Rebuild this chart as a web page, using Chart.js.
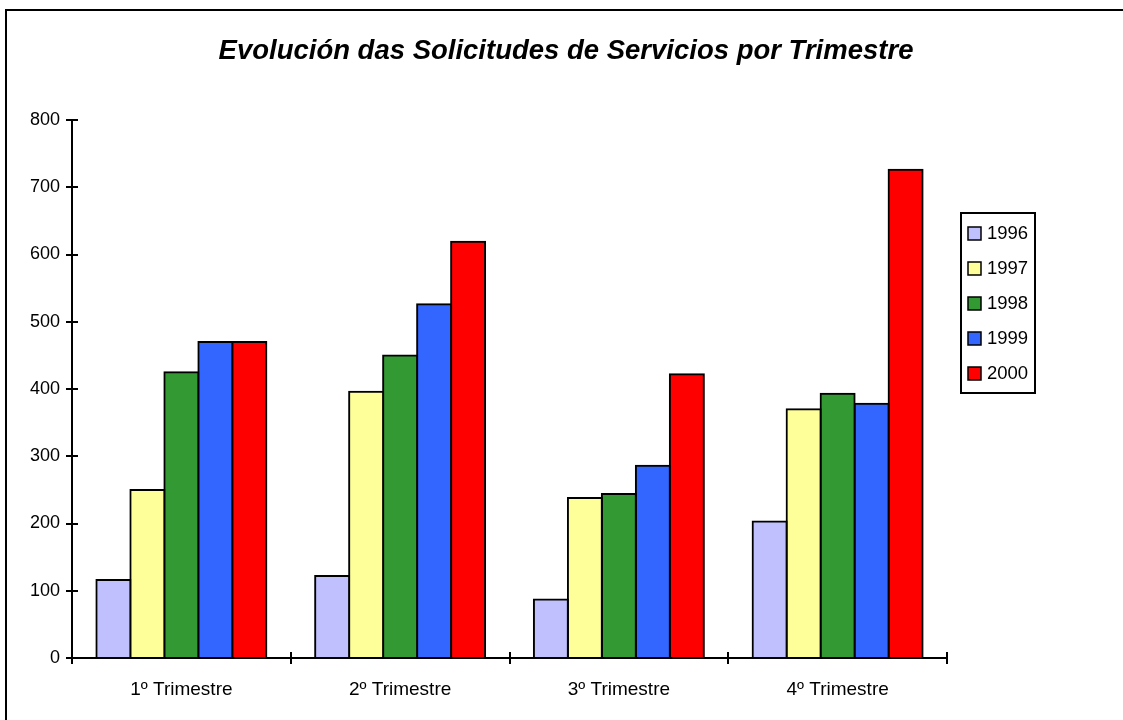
<!DOCTYPE html>
<html><head><meta charset="utf-8">
<script src="https://cdn.jsdelivr.net/npm/chart.js@4.4.0/dist/chart.umd.min.js"></script>
<style>html,body{margin:0;padding:0;background:#fff;overflow:hidden}#wrap{width:1123px;height:720px;position:relative}</style>
</head><body><div id="wrap"><canvas id="c" width="1123" height="720"></canvas></div>
<script>
const chartTitle = 'Evolución das Solicitudes de Servicios por Trimestre';
const categories = ['1º Trimestre', '2º Trimestre', '3º Trimestre', '4º Trimestre'];
const seriesNames = ['1996', '1997', '1998', '1999', '2000'];
const v1996 = [116, 122, 87, 203];
const v1997 = [250, 396, 238, 370];
const v1998 = [425, 450, 244, 393];
const v1999 = [470, 526, 286, 378];
const v2000 = [470, 619, 422, 726];
const yTickValues = [0, 100, 200, 300, 400, 500, 600, 700, 800];
const seriesColors = ['#C0C0FF', '#FFFF99', '#339933', '#3366FF', '#FF0000'];

const seriesValues = [v1996, v1997, v1998, v1999, v2000];
const FONT = '"Liberation Sans", Arial, sans-serif';

const decor = {
  id: 'decor',
  afterDraw(chart) {
    const ctx = chart.ctx;
    const xs = chart.scales.x, ys = chart.scales.y;
    const ca = chart.chartArea;
    ctx.save();
    // outer frame
    ctx.strokeStyle = '#000'; ctx.lineWidth = 2;
    ctx.beginPath();
    ctx.moveTo(6, 720); ctx.lineTo(6, 10); ctx.lineTo(1123, 10);
    ctx.stroke();
    // title
    ctx.fillStyle = '#000';
    ctx.font = 'italic bold 27.5px ' + FONT;
    ctx.textAlign = 'center'; ctx.textBaseline = 'middle';
    ctx.fillText(chartTitle, 566, 51);
    // inward tick marks
    ctx.lineWidth = 2;
    ctx.beginPath();
    yTickValues.forEach(v => {
      const y = Math.round(ys.getPixelForValue(v));
      ctx.moveTo(ca.left, y); ctx.lineTo(ca.left + 6, y);
    });
    const step = xs.getPixelForTick(1) - xs.getPixelForTick(0);
    for (let i = 0; i <= categories.length; i++) {
      const x = Math.round(xs.getPixelForTick(0) - step / 2 + i * step);
      ctx.moveTo(x, ca.bottom); ctx.lineTo(x, ca.bottom - 6);
    }
    ctx.stroke();
    // legend
    ctx.lineWidth = 2;
    ctx.strokeRect(961, 213, 74, 180);
    ctx.font = '18.5px ' + FONT;
    ctx.textAlign = 'left'; ctx.textBaseline = 'middle';
    chart.data.datasets.forEach((ds, i) => {
      const cy = 233 + i * 35;
      ctx.fillStyle = ds.backgroundColor;
      ctx.fillRect(968, cy - 6, 13, 13);
      ctx.lineWidth = 1.5;
      ctx.strokeRect(968, cy - 6, 13, 13);
      ctx.fillStyle = '#000';
      ctx.fillText(ds.label, 987, cy + 1);
    });
    ctx.restore();
  }
};

new Chart(document.getElementById('c'), {
  type: 'bar',
  data: {
    labels: categories,
    datasets: seriesNames.map((n, i) => ({
      label: n,
      data: seriesValues[i],
      backgroundColor: seriesColors[i],
      borderColor: '#000',
      borderWidth: 2,
      inflateAmount: 1,
      categoryPercentage: 0.777,
      barPercentage: 1
    }))
  },
  options: {
    responsive: false,
    animation: false,
    devicePixelRatio: 1,
    layout: { padding: { left: 0, right: 176, top: 120, bottom: 0 } },
    plugins: { legend: { display: false }, title: { display: false }, tooltip: { enabled: false } },
    scales: {
      x: {
        offset: true,
        grid: { display: true, drawOnChartArea: false, drawTicks: true, tickLength: 6, color: '#000', lineWidth: 2, offset: true },
        border: { display: true, color: '#000', width: 2 },
        ticks: { color: '#000', font: { family: FONT, size: 19 }, padding: 14, maxRotation: 0 },
        afterFit(s) { s.height = 62; }
      },
      y: {
        min: 0, max: 800,
        afterBuildTicks(s) { s.ticks = yTickValues.map(v => ({ value: v })); },
        grid: { display: true, drawOnChartArea: false, drawTicks: true, tickLength: 6, color: '#000', lineWidth: 2 },
        border: { display: true, color: '#000', width: 2 },
        ticks: { color: '#000', font: { family: FONT, size: 18 }, padding: 6 },
        afterFit(s) { s.width = 72; }
      }
    }
  },
  plugins: [decor]
});
</script></body></html>
